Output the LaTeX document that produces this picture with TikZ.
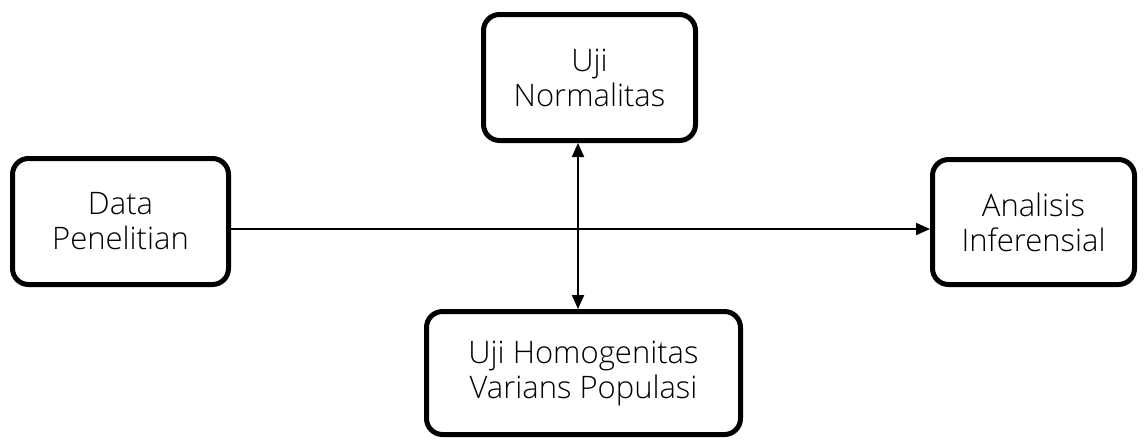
\documentclass[tikz,border=0pt]{standalone}
\usepackage{fontspec}
\setmainfont{Open Sans}[UprightFont=* Light]
\usetikzlibrary{arrows.meta}
\tikzset{
  blok/.style={draw, line width=2.5pt, rounded corners=8pt, align=center,
    font=\fontsize{15.5}{17.5}\selectfont, inner sep=0pt},
  panah/.style={line width=1pt, -{Triangle[width=6pt,length=7pt]}}
}
\begin{document}
\begin{tikzpicture}[x=0.5pt,y=-0.5pt]
  \useasboundingbox (0,0) rectangle (1145,441);
  \node[blok, minimum width=108pt, minimum height=63pt] (data) at (120.5,221.5) {Data\\Penelitian};
  \node[blok, minimum width=106pt, minimum height=63pt] (normal) at (589.5,77.5) {Uji\\Normalitas};
  \node[blok, minimum width=101pt, minimum height=62.5pt] (inferensial) at (1033.5,222) {Analisis\\Inferensial};
  \node[blok, minimum width=157pt, minimum height=61.5pt] (homogen) at (583.5,373) {Uji Homogenitas\\Varians Populasi};
  \draw[panah] ([yshift=-3.75pt]data.east) -- ([yshift=-3.5pt]inferensial.west);
  \draw[panah, {Triangle[width=6pt,length=7pt]}-{Triangle[width=6pt,length=7pt]}]
    ([xshift=-5.75pt]normal.south) -- ([xshift=-2.75pt]homogen.north);
\end{tikzpicture}
\end{document}
